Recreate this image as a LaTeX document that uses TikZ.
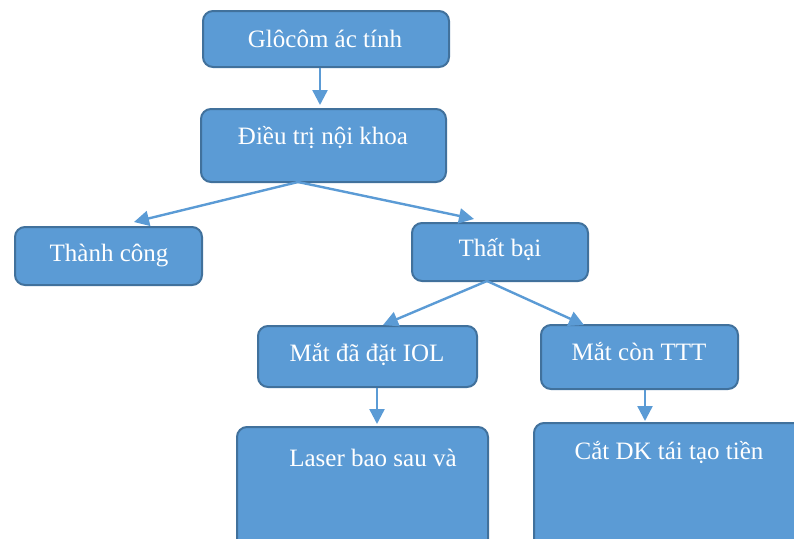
\documentclass[tikz,border=0pt]{standalone}
\usepackage{fontspec}
\setmainfont{Liberation Serif}
\usetikzlibrary{arrows.meta}
\definecolor{boxfill}{HTML}{5B9BD5}
\definecolor{boxborder}{HTML}{41719C}
\definecolor{arrowcol}{HTML}{5B9BD5}
\begin{document}
\begin{tikzpicture}[x=1pt,y=-1pt,
  box/.style={draw=boxborder, line width=2pt, fill=boxfill, rounded corners=10pt, inner sep=0pt},
  txt/.style={text=white, font=\fontsize{25}{30}\selectfont, inner sep=0pt},
  conn/.style={draw=arrowcol, line width=2.4pt, -{Triangle[length=15pt,width=15pt]}}]
\useasboundingbox (0,0) rectangle (794,538);
\clip (0,0) rectangle (794,538);
% boxes
\node[box, minimum width=246pt, minimum height=56pt] (b1) at (326,39) {};
\node[box, minimum width=245pt, minimum height=73pt] (b2) at (323.5,145.5) {};
\node[box, minimum width=187pt, minimum height=58pt] (b3) at (108.5,256) {};
\node[box, minimum width=176pt, minimum height=58pt] (b4) at (500,252) {};
\node[box, minimum width=219pt, minimum height=61pt] (b5) at (367.5,356.5) {};
\node[box, minimum width=197pt, minimum height=64pt] (b6) at (639.5,357) {};
\node[box, minimum width=251pt, minimum height=140pt] (b7) at (362.5,497) {};
\node[box, minimum width=280pt, minimum height=145pt] (b8) at (674,495.5) {};
% texts
\node[txt] (t1) at (325,39) {Glôcôm ác tính};
\node[txt] (t2) at (323,138) {Điều trị nội khoa};
\node[txt] (t3) at (109,255) {Thành công};
\node[txt] (t4) at (500,250) {Thất bại};
\node[txt] (t5) at (367,355) {Mắt đã đặt IOL};
\node[txt] (t6) at (639,352) {Mắt còn TTT};
\node[txt] (t7) at (373,458) {Laser bao sau và};
\node[txt] (t8) at (669,453) {Cắt DK tái tạo tiền};
% connector points
\coordinate (o2) at (298,182);
\coordinate (o4) at (487,281);
% connectors
\draw[conn] (b1.south -| 320,0) -- ([yshift=3pt]b2.north -| 320,0);
\draw[conn] (o2) -- (134,222);
\draw[conn] (o2) -- (474,219);
\draw[conn] (o4) -- (383,325);
\draw[conn] (o4) -- (584,325);
\draw[conn] (b5.south -| 377,0) -- ([yshift=2pt]b7.north -| 377,0);
\draw[conn] (b6.south -| 645,0) -- ([yshift=1pt]b8.north -| 645,0);
\end{tikzpicture}
\end{document}
